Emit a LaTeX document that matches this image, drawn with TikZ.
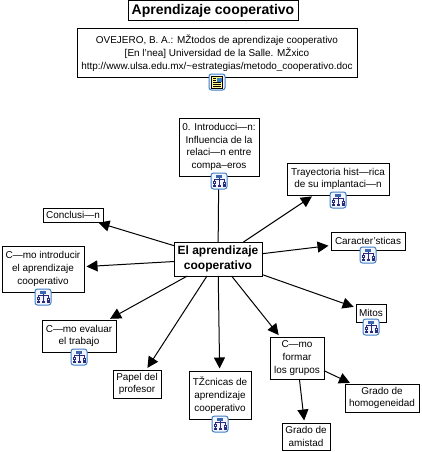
\documentclass[tikz,border=0pt]{standalone}
\usepackage{fontspec}
\setmainfont{Liberation Sans}
\usetikzlibrary{arrows.meta}
\definecolor{iconblue}{HTML}{3F7FC8}
\definecolor{iconfill}{HTML}{F2F6FC}
\definecolor{icondark}{HTML}{2A2A7A}
\tikzset{
  x=1pt,y=-1pt,
  box/.style={draw=black,line width=1pt,fill=white,inner sep=0pt,outer sep=0pt,align=center,font=\fontsize{9.95}{12.7}\selectfont,anchor=center},
  head/.style={box,font=\fontsize{14}{16}\bfseries\selectfont},
  core/.style={box,font=\fontsize{12}{15.5}\bfseries\selectfont},
  link/.style={draw=black,line width=1pt},
  arrow/.style={link,-{Triangle[length=11pt,width=11pt]},shorten >=2.5pt},
  iconbg/.style={draw=iconblue,line width=1pt,fill=iconfill,rounded corners=2.5pt},
  mapicon/.pic={
    \path[iconbg] (-8,-8) rectangle (8,8);
    \draw[icondark,line width=0.5pt] (0,-3)--(0,3.5) (-5,0.5)--(-5,-1.5)--(5,-1.5)--(5,1) (-5,2.5)--(-5,3.5);
    \fill[iconblue!70!icondark] (-3,-6.5) rectangle (3,-3.5);
    \draw[icondark,line width=0.6pt,fill=white] (-6.2,0.5) rectangle (-3.8,2.5);
    \draw[icondark,line width=0.6pt,fill=white] (3.8,1) rectangle (6.2,3);
    \fill[icondark] (-6.5,3.7) rectangle (-3.5,6.2);
    \fill[icondark] (-1.5,3.7) rectangle (1.5,6.2);
    \fill[icondark] (3.5,4) rectangle (6.5,6.2);
  },
  docicon/.pic={
    \path[iconbg] (-8,-8) rectangle (8,8);
    \draw[black,fill=yellow!45!white,line width=0.7pt] (-5.5,-5.5) rectangle (5.5,6);
    \fill[iconblue] (0,-4.5) rectangle (4.5,-0.5);
    \draw[black,line width=0.5pt] (-4,-3.5)--(-1,-3.5) (-4,-1.5)--(-1,-1.5) (-4,0.7)--(4,0.7) (-4,2.5)--(4,2.5) (-4,4.3)--(4,4.3);
  }
}
\newcommand{\bx}[8][box]{\node[#1,minimum width=#6pt-#4pt-1pt,minimum height=#7pt-#5pt-1pt] (#2) at ({(#4+#6)/2},{(#5+#7)/2}) {#8};}
\begin{document}
\begin{tikzpicture}
\useasboundingbox (0,0) rectangle (421,452);
\fill[white] (0,0) rectangle (421,452);
\bx[core]{c}{}{173.5}{241.5}{262.5}{276.5}{El aprendizaje\\cooperativo}
\bx{intro}{}{178.5}{117.5}{259.5}{176.5}{0. Introducci—n:\\Influencia de la\\relaci—n entre\\compa–eros}
\bx{tray}{}{286.5}{162.5}{389.5}{195.5}{Trayectoria hist—rica\\de su implantaci—n}
\bx{car}{}{330.5}{231.5}{405.5}{250.5}{Caracter’sticas}
\bx{mitos}{}{355.5}{303.5}{386.5}{322.5}{Mitos}
\bx{formar}{}{269.5}{336.5}{324.5}{379.5}{C—mo\\formar\\los grupos}
\bx{homog}{}{344.5}{383.5}{419.5}{412.5}{Grado de\\homogeneidad}
\bx{amistad}{}{281.5}{422.5}{330.5}{450.5}{Grado de\\amistad}
\bx{tec}{}{188.5}{370.5}{251.5}{419.5}{TŽcnicas de\\aprendizaje\\cooperativo}
\bx{papel}{}{112.5}{369.5}{161.5}{398.5}{Papel del\\profesor}
\bx{eval}{}{41.5}{319.5}{116.5}{352.5}{C—mo evaluar\\el trabajo}
\bx{cintro}{}{1.5}{245.5}{84.5}{292.5}{C—mo introducir\\el aprendizaje\\cooperativo}
\bx{concl}{}{42.5}{207.5}{103.5}{222.5}{Conclusi—n}
\bx[head]{title}{}{127.5}{0.5}{298.5}{21.5}{Aprendizaje cooperativo}
\bx{ref}{}{76.5}{28.5}{357.5}{77.5}{OVEJERO, B. A.: MŽtodos de aprendizaje cooperativo\\{}[En l’nea] Universidad de la Salle. MŽxico\\http://www.ulsa.edu.mx/\textasciitilde estrategias/metodo\_cooperativo.doc}
\draw[link] (c) -- (intro);
\foreach \t in {tray,car,mitos,formar,tec,papel,eval,cintro,concl} \draw[arrow] (c) -- (\t);
\draw[arrow] (formar) -- (homog);
\draw[arrow] (formar) -- (amistad);
\pic at (217,82) {docicon};
\pic at (219,181) {mapicon};
\pic at (338,200) {mapicon};
\pic at (368,255) {mapicon};
\pic at (371,327) {mapicon};
\pic at (220,424) {mapicon};
\pic at (79,357) {mapicon};
\pic at (43,297) {mapicon};
\end{tikzpicture}
\end{document}
